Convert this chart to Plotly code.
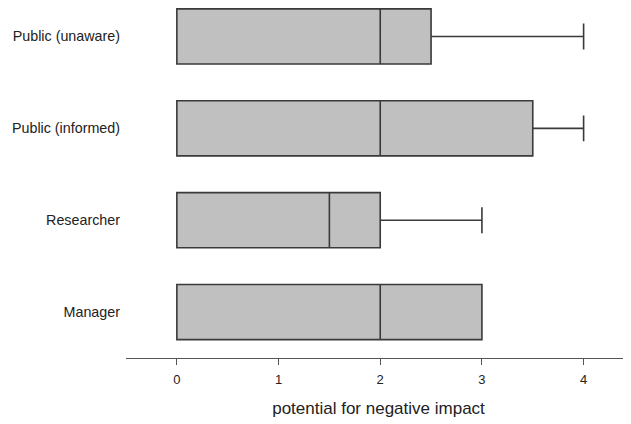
import plotly.graph_objects as go

categories = ["Manager", "Researcher", "Public (informed)", "Public (unaware)"]
q1_values = [0, 0, 0, 0]
median_values = [2, 1.5, 2, 2]
q3_values = [3, 2, 3.5, 2.5]
lower_values = [0, 0, 0, 0]
upper_values = [3, 3, 4, 4]
x_ticks = [0, 1, 2, 3, 4]

fig = go.Figure()
fig.add_trace(go.Box(
    y=categories,
    q1=q1_values,
    median=median_values,
    q3=q3_values,
    lowerfence=lower_values,
    upperfence=upper_values,
    orientation="h",
    fillcolor="#c0c0c0",
    line=dict(color="#3a3a3a", width=1.6),
    whiskerwidth=0.47,
    width=0.6,
    boxpoints=False,
    showlegend=False,
))

fig.update_layout(
    width=623, height=410,
    margin=dict(l=118, r=0, t=0, b=60),
    paper_bgcolor="white", plot_bgcolor="white",
    font=dict(family="Liberation Sans, Arial, sans-serif", color="#222"),
    xaxis=dict(
        range=[-0.5, 4.466],
        tickvals=x_ticks,
        ticktext=[str(v) for v in x_ticks],
        showgrid=False, zeroline=False,
        showline=True, linecolor="#555", linewidth=1.2,
        ticks="outside", ticklen=6, tickcolor="#555", tickwidth=1,
        tickfont=dict(size=13),
        ticklabelstandoff=3,
        title=dict(text="potential for negative impact", font=dict(size=17), standoff=18),
    ),
    yaxis=dict(
        categoryorder="array", categoryarray=categories,
        range=[-0.5, 3.31],
        showgrid=False, zeroline=False, showline=False,
        ticks="", tickfont=dict(size=14.3),
        ticklabelstandoff=5,
    ),
)

fig.write_html("out.html")
